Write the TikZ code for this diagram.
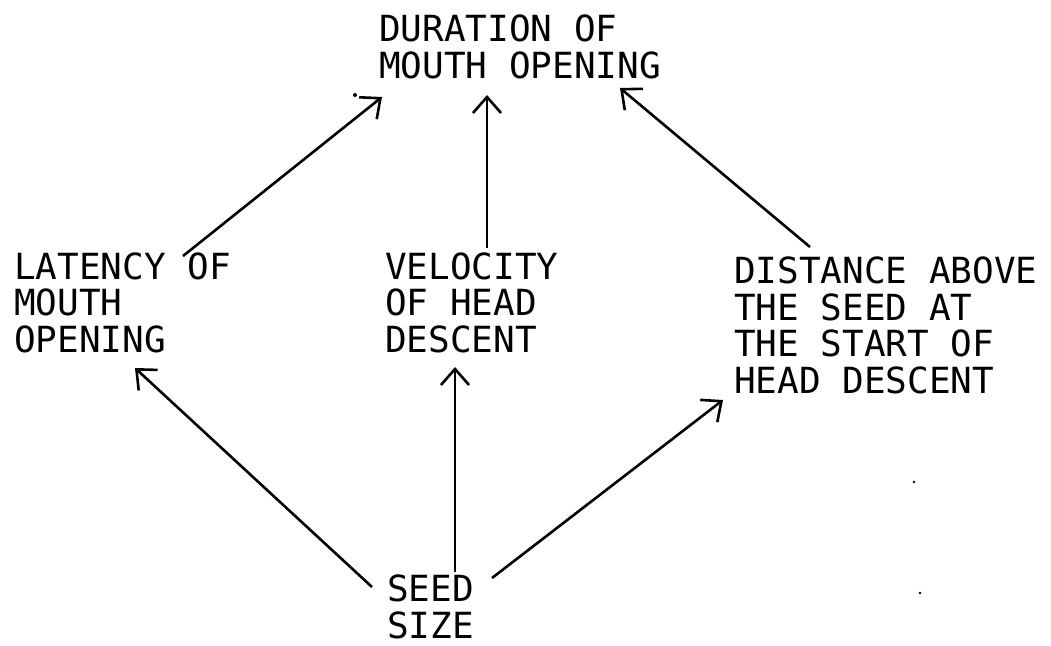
\documentclass[tikz,border=0pt]{standalone}
\usepackage{fontspec}
\setmainfont{DejaVu Sans Mono}
\usetikzlibrary{arrows.meta}
\begin{document}
\begin{tikzpicture}[x=1pt,y=-1pt,
  lbl/.style={font=\fontsize{36}{36.5}\selectfont, align=left, inner sep=0pt, anchor=base west},
  link/.style={line width=2.6pt, -{Straight Barb[length=16pt,width=28pt,line width=2.6pt]}}]
\useasboundingbox (0,0) rectangle (1051,645);
% base anchor = baseline of the last line
\node[lbl] (dur) at (379,78) {DURATION OF\\MOUTH OPENING};
\node[lbl] (lat) at (14,352) {LATENCY OF\\MOUTH\\OPENING};
\node[lbl] (vel) at (385,352) {VELOCITY\\OF HEAD\\DESCENT};
\node[lbl] (dis) at (734,393) {DISTANCE ABOVE\\THE SEED AT\\THE START OF\\HEAD DESCENT};
\node[lbl] (seed) at (387,638) {SEED\\SIZE};
% arrow end points
\coordinate (latT) at (183,256);
\coordinate (durL) at (382,97);
\coordinate (velT) at (487,248);
\coordinate (durC) at (487,95);
\coordinate (disT) at (810,247);
\coordinate (durR) at (620,88);
\coordinate (seedL) at (372,587);
\coordinate (latB) at (135,368);
\coordinate (seedC) at (455,572);
\coordinate (velB) at (455,367);
\coordinate (seedR) at (492,578);
\coordinate (disB) at (723,400);
\draw[link] (latT) -- (durL);
\draw[link] (velT) -- (durC);
\draw[link] (disT) -- (durR);
\draw[link] (seedL) -- (latB);
\draw[link] (seedC) -- (velB);
\draw[link] (seedR) -- (disB);
% specks
\fill (355,95) circle (2);
\fill (914,482) circle (1.4);
\fill (920,593) circle (1.4);
\end{tikzpicture}
\end{document}
